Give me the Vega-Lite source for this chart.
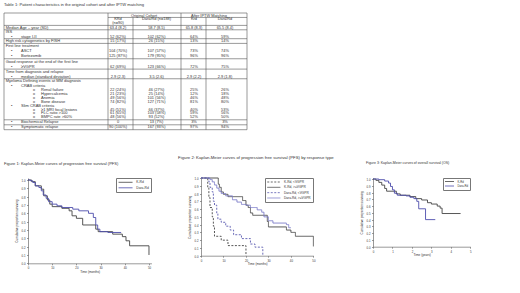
{
  "$schema": "https://vega.github.io/schema/vega-lite/v6.json",
  "padding": {"left": 3, "top": 2, "right": 0, "bottom": 0},
  "background": "white",
  "spacing": 26,
  "resolve": {"scale": {"color": "independent", "strokeDash": "independent"}, "legend": {"color": "independent", "strokeDash": "independent"}},
  "datasets": {
    "tableRules": [
      {"x1": 0, "x2": 11, "y1": -0.6, "y2": -0.6},
      {"x1": 1, "x2": 11, "y1": 0.5, "y2": 0.5},
      {"x1": 0, "x2": 11, "y1": 2.5, "y2": 2.5},
      {"x1": 0, "x2": 11, "y1": 3.5, "y2": 3.5},
      {"x1": 0, "x2": 11, "y1": 5.5, "y2": 5.5},
      {"x1": 0, "x2": 11, "y1": 6.5, "y2": 6.5},
      {"x1": 0, "x2": 11, "y1": 9.5, "y2": 9.5},
      {"x1": 0, "x2": 11, "y1": 11.5, "y2": 11.5},
      {"x1": 0, "x2": 11, "y1": 13.5, "y2": 13.5},
      {"x1": 0, "x2": 11, "y1": 23.5, "y2": 23.5},
      {"x1": 0, "x2": 11, "y1": 24.5, "y2": 24.5},
      {"x1": 0, "x2": 11, "y1": 25.5, "y2": 25.5},
      {"x1": 0, "x2": 0, "y1": -0.6, "y2": 25.5},
      {"x1": 1, "x2": 1, "y1": -0.6, "y2": 25.5},
      {"x1": 3, "x2": 3, "y1": 0.5, "y2": 25.5},
      {"x1": 6, "x2": 6, "y1": -0.6, "y2": 25.5},
      {"x1": 8, "x2": 8, "y1": 0.5, "y2": 25.5},
      {"x1": 11, "x2": 11, "y1": -0.6, "y2": 25.5}
    ],
    "tableText": [
      {"line": 0, "col": 4, "text": "Original Cohort"},
      {"line": 0, "col": 9, "text": "After IPTW Matching"},
      {"line": 1, "col": 2, "text": "KRd"},
      {"line": 1, "col": 5, "text": "Dara/Rd (n=188)"},
      {"line": 1, "col": 7, "text": "Krd"},
      {"line": 1, "col": 10, "text": "Dara/Rd"},
      {"line": 2, "col": 2, "text": "(n=90)"},
      {"line": 3, "col": 0, "indent": 0, "text": "Median Age – year (SD)"},
      {"line": 3, "col": 2, "text": "63.4 (8.2)"},
      {"line": 3, "col": 5, "text": "58.7 (8.5)"},
      {"line": 3, "col": 7, "text": "65.8 (8.3)"},
      {"line": 3, "col": 10, "text": "65.5 (8.4)"},
      {"line": 4, "col": 0, "indent": 0, "text": "ISS"},
      {"line": 5, "col": 0, "indent": 1, "text": "stage I-II"},
      {"line": 5, "col": 2, "text": "52 (62%)"},
      {"line": 5, "col": 5, "text": "102 (62%)"},
      {"line": 5, "col": 7, "text": "64%"},
      {"line": 5, "col": 10, "text": "59%"},
      {"line": 6, "col": 0, "indent": 0, "text": "High risk cytogenetics by FISH"},
      {"line": 6, "col": 2, "text": "15 (17%)"},
      {"line": 6, "col": 5, "text": "26 (15%)"},
      {"line": 6, "col": 7, "text": "13%"},
      {"line": 6, "col": 10, "text": "14%"},
      {"line": 7, "col": 0, "indent": 0, "text": "First line treatment"},
      {"line": 8, "col": 0, "indent": 1, "text": "ASCT"},
      {"line": 8, "col": 2, "text": "104 (70%)"},
      {"line": 8, "col": 5, "text": "107 (57%)"},
      {"line": 8, "col": 7, "text": "73%"},
      {"line": 8, "col": 10, "text": "74%"},
      {"line": 9, "col": 0, "indent": 1, "text": "Bortezomib"},
      {"line": 9, "col": 2, "text": "125 (87%)"},
      {"line": 9, "col": 5, "text": "179 (95%)"},
      {"line": 9, "col": 7, "text": "96%"},
      {"line": 9, "col": 10, "text": "96%"},
      {"line": 10, "col": 0, "indent": 0, "text": "Good response at the end of the first line"},
      {"line": 11, "col": 0, "indent": 1, "text": "≥VGPR"},
      {"line": 11, "col": 2, "text": "62 (69%)"},
      {"line": 11, "col": 5, "text": "123 (66%)"},
      {"line": 11, "col": 7, "text": "72%"},
      {"line": 11, "col": 10, "text": "75%"},
      {"line": 12, "col": 0, "indent": 0, "text": "Time from diagnosis and relapse"},
      {"line": 13, "col": 0, "indent": 1, "text": "median (standard deviation)"},
      {"line": 13, "col": 2, "text": "2.9 (2.3)"},
      {"line": 13, "col": 5, "text": "3.5 (2.6)"},
      {"line": 13, "col": 7, "text": "2.9 (2.2)"},
      {"line": 13, "col": 10, "text": "2.9 (1.8)"},
      {"line": 14, "col": 0, "indent": 0, "text": "Myeloma Defining events at MM diagnosis"},
      {"line": 15, "col": 0, "indent": 1, "text": "CRAB criteria"},
      {"line": 16, "col": 0, "indent": 2, "text": "Renal failure"},
      {"line": 16, "col": 2, "text": "22 (24%)"},
      {"line": 16, "col": 5, "text": "46 (27%)"},
      {"line": 16, "col": 7, "text": "25%"},
      {"line": 16, "col": 10, "text": "26%"},
      {"line": 17, "col": 0, "indent": 2, "text": "Hypercalcemia"},
      {"line": 17, "col": 2, "text": "21 (23%)"},
      {"line": 17, "col": 5, "text": "25 (14%)"},
      {"line": 17, "col": 7, "text": "12%"},
      {"line": 17, "col": 10, "text": "18%"},
      {"line": 18, "col": 0, "indent": 2, "text": "Anemia"},
      {"line": 18, "col": 2, "text": "49 (56%)"},
      {"line": 18, "col": 5, "text": "101 (56%)"},
      {"line": 18, "col": 7, "text": "46%"},
      {"line": 18, "col": 10, "text": "48%"},
      {"line": 19, "col": 0, "indent": 2, "text": "Bone disease"},
      {"line": 19, "col": 2, "text": "74 (82%)"},
      {"line": 19, "col": 5, "text": "127 (71%)"},
      {"line": 19, "col": 7, "text": "81%"},
      {"line": 19, "col": 10, "text": "80%"},
      {"line": 20, "col": 0, "indent": 1, "text": "Slim CRAB criteria"},
      {"line": 21, "col": 0, "indent": 2, "text": "≥1 MRI focal lesions"},
      {"line": 21, "col": 2, "text": "45 (51%)"},
      {"line": 21, "col": 5, "text": "66 (37%)"},
      {"line": 21, "col": 7, "text": "40%"},
      {"line": 21, "col": 10, "text": "53%"},
      {"line": 22, "col": 0, "indent": 2, "text": "FLC ratio >100"},
      {"line": 22, "col": 2, "text": "61 (65%)"},
      {"line": 22, "col": 5, "text": "103 (58%)"},
      {"line": 22, "col": 7, "text": "59%"},
      {"line": 22, "col": 10, "text": "56%"},
      {"line": 23, "col": 0, "indent": 2, "text": "BMPC rate >60%"},
      {"line": 23, "col": 2, "text": "48 (56%)"},
      {"line": 23, "col": 5, "text": "93 (52%)"},
      {"line": 23, "col": 7, "text": "52%"},
      {"line": 23, "col": 10, "text": "50%"},
      {"line": 24, "col": 0, "indent": 1, "text": "Biochemical Relapse"},
      {"line": 24, "col": 2, "text": "0"},
      {"line": 24, "col": 5, "text": "13 (7%)"},
      {"line": 24, "col": 7, "text": "3%"},
      {"line": 24, "col": 10, "text": "3%"},
      {"line": 25, "col": 0, "indent": 1, "text": "Symptomatic relapse"},
      {"line": 25, "col": 2, "text": "90 (100%)"},
      {"line": 25, "col": 5, "text": "167 (93%)"},
      {"line": 25, "col": 7, "text": "97%"},
      {"line": 25, "col": 10, "text": "94%"}
    ],
    "km1": [
      {"series": "K-Rd", "t": 0, "s": 1.0},
      {"series": "K-Rd", "t": 1.5, "s": 0.98},
      {"series": "K-Rd", "t": 3, "s": 0.93},
      {"series": "K-Rd", "t": 5.5, "s": 0.89},
      {"series": "K-Rd", "t": 6.5, "s": 0.81},
      {"series": "K-Rd", "t": 8, "s": 0.76},
      {"series": "K-Rd", "t": 9, "s": 0.71},
      {"series": "K-Rd", "t": 10, "s": 0.68},
      {"series": "K-Rd", "t": 14, "s": 0.66},
      {"series": "K-Rd", "t": 17, "s": 0.63},
      {"series": "K-Rd", "t": 18.2, "s": 0.57},
      {"series": "K-Rd", "t": 20, "s": 0.54},
      {"series": "K-Rd", "t": 22.6, "s": 0.46},
      {"series": "K-Rd", "t": 28, "s": 0.41},
      {"series": "K-Rd", "t": 29, "s": 0.38},
      {"series": "K-Rd", "t": 35, "s": 0.35},
      {"series": "K-Rd", "t": 39, "s": 0.32},
      {"series": "K-Rd", "t": 40.5, "s": 0.27},
      {"series": "K-Rd", "t": 42, "s": 0.21},
      {"series": "K-Rd", "t": 50, "s": 0.10},
      {"series": "Dara-Rd", "t": 0, "s": 1.0},
      {"series": "Dara-Rd", "t": 1, "s": 0.99},
      {"series": "Dara-Rd", "t": 2, "s": 0.97},
      {"series": "Dara-Rd", "t": 3, "s": 0.93},
      {"series": "Dara-Rd", "t": 4.5, "s": 0.91},
      {"series": "Dara-Rd", "t": 5.5, "s": 0.87},
      {"series": "Dara-Rd", "t": 6.3, "s": 0.82},
      {"series": "Dara-Rd", "t": 7.5, "s": 0.78},
      {"series": "Dara-Rd", "t": 8.5, "s": 0.74},
      {"series": "Dara-Rd", "t": 10, "s": 0.71},
      {"series": "Dara-Rd", "t": 12, "s": 0.69},
      {"series": "Dara-Rd", "t": 14, "s": 0.67},
      {"series": "Dara-Rd", "t": 18.5, "s": 0.65},
      {"series": "Dara-Rd", "t": 21, "s": 0.63},
      {"series": "Dara-Rd", "t": 25, "s": 0.60},
      {"series": "Dara-Rd", "t": 27, "s": 0.55},
      {"series": "Dara-Rd", "t": 28, "s": 0.46},
      {"series": "Dara-Rd", "t": 28.8, "s": 0.41},
      {"series": "Dara-Rd", "t": 29.7, "s": 0.38},
      {"series": "Dara-Rd", "t": 33, "s": 0.37},
      {"series": "Dara-Rd", "t": 38.5, "s": 0.37}
    ],
    "km2": [
      {"series": "K-Rd, <VGPR", "t": 0, "s": 1},
      {"series": "K-Rd, <VGPR", "t": 3, "s": 0.88},
      {"series": "K-Rd, <VGPR", "t": 3.5, "s": 0.75},
      {"series": "K-Rd, <VGPR", "t": 4, "s": 0.62},
      {"series": "K-Rd, <VGPR", "t": 5, "s": 0.5},
      {"series": "K-Rd, <VGPR", "t": 5.5, "s": 0.38},
      {"series": "K-Rd, <VGPR", "t": 6, "s": 0.25},
      {"series": "K-Rd, <VGPR", "t": 9, "s": 0.2},
      {"series": "K-Rd, <VGPR", "t": 12, "s": 0.13},
      {"series": "K-Rd, <VGPR", "t": 20, "s": 0},
      {"series": "K-Rd, >=VGPR", "t": 0, "s": 1},
      {"series": "K-Rd, >=VGPR", "t": 7.7, "s": 0.92},
      {"series": "K-Rd, >=VGPR", "t": 8.2, "s": 0.88},
      {"series": "K-Rd, >=VGPR", "t": 9, "s": 0.82},
      {"series": "K-Rd, >=VGPR", "t": 10, "s": 0.79},
      {"series": "K-Rd, >=VGPR", "t": 12, "s": 0.76},
      {"series": "K-Rd, >=VGPR", "t": 18.5, "s": 0.71},
      {"series": "K-Rd, >=VGPR", "t": 20, "s": 0.65},
      {"series": "K-Rd, >=VGPR", "t": 21, "s": 0.62},
      {"series": "K-Rd, >=VGPR", "t": 22, "s": 0.55},
      {"series": "K-Rd, >=VGPR", "t": 23, "s": 0.52},
      {"series": "K-Rd, >=VGPR", "t": 29.5, "s": 0.44},
      {"series": "K-Rd, >=VGPR", "t": 30, "s": 0.37},
      {"series": "K-Rd, >=VGPR", "t": 38, "s": 0.33},
      {"series": "K-Rd, >=VGPR", "t": 40, "s": 0.3},
      {"series": "K-Rd, >=VGPR", "t": 42, "s": 0.25},
      {"series": "K-Rd, >=VGPR", "t": 50, "s": 0.12},
      {"series": "Dara-Rd, <VGPR", "t": 0, "s": 1},
      {"series": "Dara-Rd, <VGPR", "t": 3.5, "s": 0.95},
      {"series": "Dara-Rd, <VGPR", "t": 4, "s": 0.88},
      {"series": "Dara-Rd, <VGPR", "t": 5, "s": 0.82},
      {"series": "Dara-Rd, <VGPR", "t": 5.5, "s": 0.7},
      {"series": "Dara-Rd, <VGPR", "t": 6, "s": 0.65},
      {"series": "Dara-Rd, <VGPR", "t": 7, "s": 0.55},
      {"series": "Dara-Rd, <VGPR", "t": 7.5, "s": 0.47},
      {"series": "Dara-Rd, <VGPR", "t": 9, "s": 0.43},
      {"series": "Dara-Rd, <VGPR", "t": 11, "s": 0.38},
      {"series": "Dara-Rd, <VGPR", "t": 13, "s": 0.33},
      {"series": "Dara-Rd, <VGPR", "t": 14.5, "s": 0.27},
      {"series": "Dara-Rd, <VGPR", "t": 18, "s": 0.22},
      {"series": "Dara-Rd, <VGPR", "t": 22, "s": 0.15},
      {"series": "Dara-Rd, <VGPR", "t": 24, "s": 0.11},
      {"series": "Dara-Rd, <VGPR", "t": 27.5, "s": 0},
      {"series": "Dara-Rd, >=VGPR", "t": 0, "s": 1},
      {"series": "Dara-Rd, >=VGPR", "t": 4, "s": 0.98},
      {"series": "Dara-Rd, >=VGPR", "t": 5, "s": 0.95},
      {"series": "Dara-Rd, >=VGPR", "t": 6, "s": 0.91},
      {"series": "Dara-Rd, >=VGPR", "t": 7, "s": 0.87},
      {"series": "Dara-Rd, >=VGPR", "t": 8, "s": 0.83},
      {"series": "Dara-Rd, >=VGPR", "t": 9, "s": 0.8},
      {"series": "Dara-Rd, >=VGPR", "t": 11, "s": 0.77},
      {"series": "Dara-Rd, >=VGPR", "t": 14, "s": 0.72},
      {"series": "Dara-Rd, >=VGPR", "t": 16, "s": 0.69},
      {"series": "Dara-Rd, >=VGPR", "t": 18, "s": 0.66},
      {"series": "Dara-Rd, >=VGPR", "t": 20, "s": 0.65},
      {"series": "Dara-Rd, >=VGPR", "t": 22, "s": 0.62},
      {"series": "Dara-Rd, >=VGPR", "t": 25, "s": 0.59},
      {"series": "Dara-Rd, >=VGPR", "t": 27, "s": 0.56},
      {"series": "Dara-Rd, >=VGPR", "t": 28, "s": 0.5},
      {"series": "Dara-Rd, >=VGPR", "t": 30, "s": 0.45},
      {"series": "Dara-Rd, >=VGPR", "t": 32, "s": 0.42},
      {"series": "Dara-Rd, >=VGPR", "t": 38, "s": 0.4},
      {"series": "Dara-Rd, >=VGPR", "t": 39, "s": 0.36},
      {"series": "Dara-Rd, >=VGPR", "t": 40, "s": 0.36}
    ],
    "km3": [
      {"series": "K-Rd", "t": 0, "s": 1},
      {"series": "K-Rd", "t": 0.15, "s": 0.98},
      {"series": "K-Rd", "t": 0.3, "s": 0.95},
      {"series": "K-Rd", "t": 0.45, "s": 0.91},
      {"series": "K-Rd", "t": 0.6, "s": 0.86},
      {"series": "K-Rd", "t": 0.7, "s": 0.82},
      {"series": "K-Rd", "t": 1.2, "s": 0.78},
      {"series": "K-Rd", "t": 1.4, "s": 0.76},
      {"series": "K-Rd", "t": 1.9, "s": 0.74},
      {"series": "K-Rd", "t": 2.2, "s": 0.71},
      {"series": "K-Rd", "t": 2.5, "s": 0.69},
      {"series": "K-Rd", "t": 2.8, "s": 0.65},
      {"series": "K-Rd", "t": 3.0, "s": 0.63},
      {"series": "K-Rd", "t": 3.3, "s": 0.60},
      {"series": "K-Rd", "t": 3.45, "s": 0.57},
      {"series": "K-Rd", "t": 3.55, "s": 0.49},
      {"series": "K-Rd", "t": 4.5, "s": 0.49},
      {"series": "Dara-Rd", "t": 0, "s": 1},
      {"series": "Dara-Rd", "t": 0.3, "s": 0.99},
      {"series": "Dara-Rd", "t": 0.6, "s": 0.97},
      {"series": "Dara-Rd", "t": 0.8, "s": 0.94},
      {"series": "Dara-Rd", "t": 0.9, "s": 0.89},
      {"series": "Dara-Rd", "t": 1.0, "s": 0.84},
      {"series": "Dara-Rd", "t": 1.1, "s": 0.79},
      {"series": "Dara-Rd", "t": 1.25, "s": 0.76},
      {"series": "Dara-Rd", "t": 1.7, "s": 0.75},
      {"series": "Dara-Rd", "t": 1.9, "s": 0.73},
      {"series": "Dara-Rd", "t": 2.1, "s": 0.71},
      {"series": "Dara-Rd", "t": 2.25, "s": 0.67},
      {"series": "Dara-Rd", "t": 2.35, "s": 0.56},
      {"series": "Dara-Rd", "t": 2.7, "s": 0.40},
      {"series": "Dara-Rd", "t": 3.2, "s": 0.40}
    ]
  },
  "vconcat": [
    {
      "width": 243,
      "height": 116.7,
      "title": {"text": "Table 1: Patient characteristics in the original cohort and after IPTW matching", "frame": "group", "anchor": "start", "offset": 6, "fontSize": 4.1, "dx": -24},
      "layer": [
        {
          "data": {"name": "tableRules"},
          "mark": {"type": "rule", "strokeWidth": 0.6, "color": "#555"},
          "encoding": {
            "x": {"field": "x1", "type": "quantitative", "axis": null, "scale": {"domain": [0, 1, 2, 3, 4, 5, 6, 7, 8, 9, 10, 11], "range": [-24, 80, 90, 105, 116, 128.5, 153, 166, 178, 181, 197, 219], "nice": false, "zero": false}},
            "x2": {"field": "x2"},
            "y": {"field": "y1", "type": "quantitative", "axis": null, "scale": {"domain": [-0.6, 0, 2, 3, 4, 5, 6, 7, 8, 9, 10, 11, 12, 13, 14, 15, 16, 23, 24, 25, 25.5], "range": [0, 2.6, 10, 14.8, 18.8, 23.6, 27.8, 33, 38.3, 42.5, 49, 53.5, 58.7, 63.5, 68, 72.7, 77.3, 104.3, 109.3, 114.3, 116.7], "nice": false, "zero": false}},
            "y2": {"field": "y2"}
          }
        },
        {
          "data": {"name": "tableText"},
          "transform": [{"filter": "datum.col > 0"}],
          "mark": {"type": "text", "fontSize": 3.9, "align": "center", "baseline": "middle", "color": "#333"},
          "encoding": {
            "x": {"field": "col", "type": "quantitative", "axis": null},
            "y": {"field": "line", "type": "quantitative", "axis": null},
            "text": {"field": "text"}
          }
        },
        {
          "data": {"name": "tableText"},
          "transform": [{"filter": "datum.col == 0 && datum.indent == 0"}],
          "mark": {"type": "text", "fontSize": 4, "align": "left", "baseline": "middle", "color": "#333", "dx": 1.7},
          "encoding": {
            "x": {"field": "col", "type": "quantitative", "axis": null},
            "y": {"field": "line", "type": "quantitative", "axis": null},
            "text": {"field": "text"}
          }
        },
        {
          "data": {"name": "tableText"},
          "transform": [{"filter": "datum.col == 0 && datum.indent == 1"}],
          "mark": {"type": "text", "fontSize": 4, "align": "left", "baseline": "middle", "color": "#333", "dx": 17},
          "encoding": {
            "x": {"field": "col", "type": "quantitative", "axis": null},
            "y": {"field": "line", "type": "quantitative", "axis": null},
            "text": {"field": "text"}
          }
        },
        {
          "data": {"name": "tableText"},
          "transform": [{"filter": "datum.col == 0 && datum.indent == 1"}],
          "mark": {"type": "text", "fontSize": 4, "align": "left", "baseline": "middle", "color": "#333", "dx": 7},
          "encoding": {
            "x": {"field": "col", "type": "quantitative", "axis": null},
            "y": {"field": "line", "type": "quantitative", "axis": null},
            "text": {"value": "•"}
          }
        },
        {
          "data": {"name": "tableText"},
          "transform": [{"filter": "datum.col == 0 && datum.indent == 2"}],
          "mark": {"type": "text", "fontSize": 4, "align": "left", "baseline": "middle", "color": "#333", "dx": 37},
          "encoding": {
            "x": {"field": "col", "type": "quantitative", "axis": null},
            "y": {"field": "line", "type": "quantitative", "axis": null},
            "text": {"field": "text"}
          }
        },
        {
          "data": {"name": "tableText"},
          "transform": [{"filter": "datum.col == 0 && datum.indent == 2"}],
          "mark": {"type": "text", "fontSize": 3.6, "align": "left", "baseline": "middle", "color": "#333", "dx": 29},
          "encoding": {
            "x": {"field": "col", "type": "quantitative", "axis": null},
            "y": {"field": "line", "type": "quantitative", "axis": null},
            "text": {"value": "o"}
          }
        }
      ]
    },
    {
      "spacing": 26,
      "resolve": {"scale": {"color": "independent", "strokeDash": "independent"}, "legend": {"color": "independent", "strokeDash": "independent"}},
      "hconcat": [
        {
          "width": 123.4,
          "height": 85.3,
          "title": {"text": "Figure 1: Kaplan-Meier curves of progression free survival (PFS)", "frame": "group", "anchor": "start", "dx": -24, "offset": 11.5, "fontSize": 4.0},
          "data": {"name": "km1"},
          "mark": {"type": "line", "interpolate": "step-after", "strokeWidth": 0.9},
          "encoding": {
            "x": {"field": "t", "type": "quantitative", "scale": {"domain": [0, 51], "nice": false, "zero": false}, "axis": {"values": [0, 10, 20, 30, 40, 50], "title": "Time (months)"}},
            "y": {"field": "s", "type": "quantitative", "scale": {"domain": [0, 1.024], "nice": false}, "axis": {"values": [0, 0.1, 0.2, 0.3, 0.4, 0.5, 0.6, 0.7, 0.8, 0.9, 1.0], "format": ".1f", "title": "Cumulative proportion surviving"}},
            "color": {"field": "series", "type": "nominal", "scale": {"domain": ["K-Rd", "Dara-Rd"], "range": ["#444444", "#4d4dab"]}, "legend": {"title": null, "orient": "top-right", "offset": 0, "symbolType": "M-1,0H7", "symbolSize": 12.25, "labelOffset": 13.5, "labelFontSize": 3.3, "padding": 1.8, "rowPadding": 0.5}}
          }
        },
        {
          "width": 112.4,
          "height": 77.7,
          "title": {"text": "Figure 2: Kaplan-Meier curves of progression free survival (PFS) by response type", "frame": "group", "anchor": "start", "dx": -22.9, "offset": 15.5, "fontSize": 4.28},
          "data": {"name": "km2"},
          "mark": {"type": "line", "interpolate": "step-after", "strokeWidth": 0.9},
          "encoding": {
            "x": {"field": "t", "type": "quantitative", "scale": {"domain": [0, 50], "nice": false, "zero": false}, "axis": {"values": [0, 10, 20, 30, 40, 50], "title": "Time (months)"}},
            "y": {"field": "s", "type": "quantitative", "scale": {"domain": [0, 1], "nice": false}, "axis": {"values": [0, 0.1, 0.2, 0.3, 0.4, 0.5, 0.6, 0.7, 0.8, 0.9, 1.0], "format": ".1f", "title": "Cumulative proportion surviving"}},
            "color": {"field": "series", "type": "nominal", "scale": {"domain": ["K-Rd, <VGPR", "K-Rd, >=VGPR", "Dara-Rd, <VGPR", "Dara-Rd, >=VGPR"], "range": ["#444444", "#444444", "#5a5ab0", "#7c7cc8"]}, "legend": {"title": null, "orient": "top-right", "offset": 0, "symbolType": "M-1,0H6.5", "symbolSize": 12.25, "labelOffset": 12.5, "labelFontSize": 3.2, "padding": 1.5, "rowPadding": 0.33}},
            "strokeDash": {"field": "series", "type": "nominal", "scale": {"domain": ["K-Rd, <VGPR", "K-Rd, >=VGPR", "Dara-Rd, <VGPR", "Dara-Rd, >=VGPR"], "range": [[2, 1.5], [1, 0], [2, 1.5], [1, 0]]}, "legend": {"title": null, "orient": "top-right", "offset": 0, "symbolType": "M-1,0H6.5", "symbolSize": 12.25, "labelOffset": 12.5, "labelFontSize": 3.2, "padding": 1.5, "rowPadding": 0.33}}
          }
        },
        {
          "width": 97.3,
          "height": 68.7,
          "title": {"text": "Figure 3: Kaplan-Meier curves of overall survival (OS)", "frame": "group", "anchor": "start", "dx": -7, "offset": 12.5, "fontSize": 3.5},
          "data": {"name": "km3"},
          "mark": {"type": "line", "interpolate": "step-after", "strokeWidth": 0.9},
          "encoding": {
            "x": {"field": "t", "type": "quantitative", "scale": {"domain": [0, 5], "nice": false, "zero": false}, "axis": {"values": [0, 1, 2, 3, 4, 5], "title": "Time (years)"}},
            "y": {"field": "s", "type": "quantitative", "scale": {"domain": [0, 1.0148], "nice": false}, "axis": {"values": [0, 0.1, 0.2, 0.3, 0.4, 0.5, 0.6, 0.7, 0.8, 0.9, 1.0], "format": ".1f", "title": "Cumulative proportion surviving"}},
            "color": {"field": "series", "type": "nominal", "scale": {"domain": ["K-Rd", "Dara-Rd"], "range": ["#444444", "#4d4dab"]}, "legend": {"title": null, "orient": "top-right", "offset": 0, "symbolType": "M-1,0H5", "symbolSize": 9, "labelOffset": 9, "labelFontSize": 2.8, "padding": 1.5, "rowPadding": 0.5}}
          }
        }
      ]
    }
  ],
  "config": {
    "view": {"stroke": null},
    "font": "Liberation Sans",
    "title": {"fontSize": 3.7, "fontWeight": "normal", "color": "#333", "font": "Liberation Sans"},
    "axis": {"grid": false, "domainColor": "#555", "domainWidth": 0.6, "tickColor": "#555", "tickWidth": 0.6, "tickSize": 1.5, "labelFontSize": 2.8, "labelColor": "#333", "labelPadding": 1.5, "labelFlush": false, "labelFont": "Liberation Sans", "titleFont": "Liberation Sans", "titleFontSize": 3.1, "titleFontWeight": "normal", "titleColor": "#333", "titlePadding": 1},
    "axisY": {"titlePadding": 3},
    "legend": {"strokeColor": "#777", "fillColor": "white", "labelFont": "Liberation Sans", "labelColor": "#333", "symbolStrokeWidth": 0.8, "labelLimit": 80}
  }
}
